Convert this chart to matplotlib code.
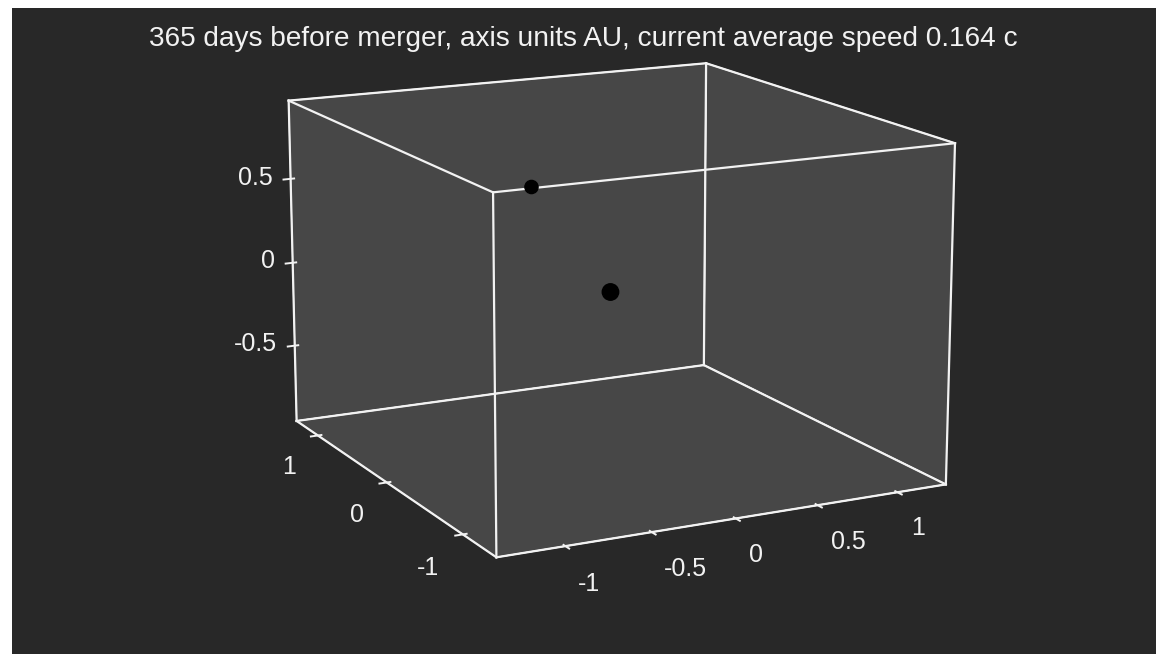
import matplotlib
matplotlib.use('Agg')
import matplotlib.pyplot as plt
import numpy as np
from itertools import product

plt.rcParams['font.family'] = ['Liberation Sans', 'DejaVu Sans']

# positions of the two bodies (AU)
body_x = [-0.04, -0.24]
body_y = [-0.04, 0.55]
body_z = [-0.02, 0.49]

xlim = (-1.39, 1.31)
ylim = (-1.41, 1.33)
zlim = (-0.96, 0.96)
xticks = [-1, -0.5, 0, 0.5, 1]
yticks = [-1, 0, 1]
zticks = [-0.5, 0, 0.5]

title = "365 days before merger, axis units AU, current average speed 0.164 c"

bg = '#282828'
pane = '#474747'
fg = '#f2f2f2'

fig = plt.figure(figsize=(11.56, 6.56), dpi=100, facecolor='white')
# dark canvas, leaving a thin white margin on the top/left/bottom
fig.patches.append(plt.Rectangle((12 / 1156, 2 / 656), 1 - 12 / 1156, 1 - 10 / 656,
                                 transform=fig.transFigure, facecolor=bg,
                                 edgecolor='none', zorder=-10))

ax = fig.add_axes([0.0695, -0.015, 0.9, 1.12], projection='3d')
ax.set_facecolor('none')
ax.set_xlim(*xlim)
ax.set_ylim(*ylim)
ax.set_zlim(*zlim)
ax.set_box_aspect((489, 498, 343), zoom=1.02)
ax.set_proj_type('persp', focal_length=0.8)
ax.view_init(elev=14, azim=-117)

for axis in (ax.xaxis, ax.yaxis, ax.zaxis):
    axis.set_pane_color(pane)
    axis.pane.set_edgecolor(fg)
    axis.line.set_color(fg)
    axis._axinfo['grid']['linewidth'] = 0
    axis._axinfo['tick']['color'] = fg
    axis._axinfo['tick']['linewidth'] = {True: 1.4, False: 1.0}
ax.grid(False)

ax.set_xticks(xticks)
ax.set_xticklabels(['-1', '-0.5', '0', '0.5', '1'], ha='left')
ax.set_yticks(yticks)
ax.set_yticklabels(['-1', '0', '1'], ha='right')
ax.set_zticks(zticks)
ax.set_zticklabels(['-0.5', '0', '0.5'], ha='right', va='center')
ax.tick_params(colors=fg, labelsize=18)
ax.tick_params(axis='x', pad=6)
ax.tick_params(axis='y', pad=6)
ax.tick_params(axis='z', pad=0)

# full wireframe box
corners = list(product(xlim, ylim, zlim))
for p, q in product(corners, corners):
    if p < q and sum(u != v for u, v in zip(p, q)) == 1:
        ax.plot(*zip(p, q), color=fg, lw=1.6, zorder=1)

ax.scatter(body_x, body_y, body_z, s=[140, 90], c='black', depthshade=False, zorder=5)

fig.text(0.505, 0.94, title, color=fg, fontsize=20.2, ha='center', va='center')

fig.savefig('out.png', dpi=100, facecolor='white')
